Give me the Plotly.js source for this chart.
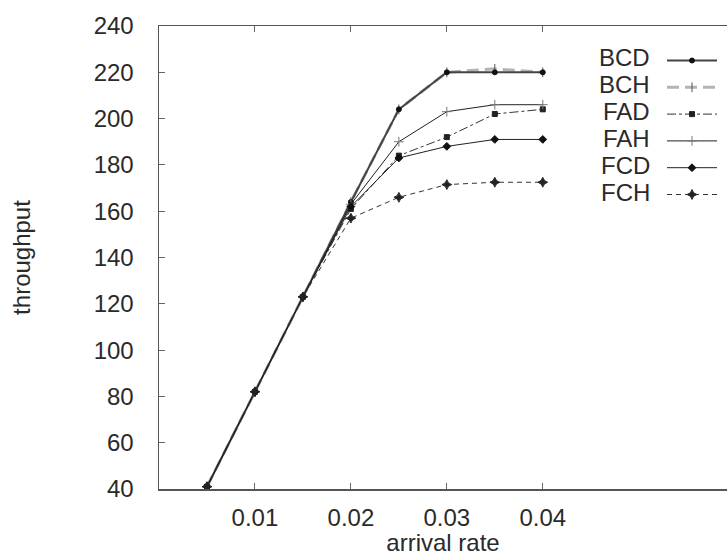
<!DOCTYPE html>
<html><head><meta charset="utf-8">
<script src="https://cdn.plot.ly/plotly-3.0.1.min.js"></script>
<style>html,body{margin:0;padding:0;background:#fff}#chart{width:727px;height:556px}</style>
</head><body><div id="chart"></div>
<script>
const arrivalRate = [0.005, 0.01, 0.015, 0.02, 0.025, 0.03, 0.035, 0.04];
const BCD = [41, 82, 123, 164, 204, 220, 220, 220];
const BCH = [41, 82, 123, 164, 204, 220, 221.5, 220];
const FAD = [41, 82, 123, 161, 184, 192, 202, 204];
const FAH = [41, 82, 123, 163, 190, 203, 206, 206];
const FCD = [41, 82, 123, 162, 183, 188, 191, 191];
const FCH = [41, 82, 123, 157, 166, 171.5, 172.5, 172.5];
const seriesNames = ['BCD', 'BCH', 'FAD', 'FAH', 'FCD', 'FCH'];
const yTicks = [40, 60, 80, 100, 120, 140, 160, 180, 200, 220, 240];
const xTicks = [0.01, 0.02, 0.03, 0.04];

function tr(name, y, color, width, dash, sym, msize, mcolor, rank) {
  return {x: arrivalRate, y: y, name: name, type: 'scatter', mode: 'lines+markers',
    line: {color: color, width: width, dash: dash},
    marker: {symbol: sym, size: msize, color: mcolor, line: {color: mcolor, width: 1}},
    legendgroup: name, legendrank: rank};
}
const data = [
  tr('BCH', BCH, '#b4b4b4', 3, '12px,6px', 'line-ns-open', 7, '#555', 2),
  tr('BCD', BCD, '#444', 2, 'solid', 'circle', 5, '#111', 1),
  tr('FAD', FAD, '#333', 1, 'dashdot', 'square', 5, '#222', 3),
  tr('FAH', FAH, '#222', 1, 'solid', 'cross-thin-open', 7, '#777', 4),
  tr('FCD', FCD, '#222', 1, 'solid', 'diamond', 6, '#111', 5),
  tr('FCH', FCH, '#333', 1, '5px,4px', 'star-diamond', 7, '#222', 6)
];
// legend labels drawn to the left of the legend samples (gnuplot style)
const plotTop = 26, plotH = 463, plotL = 159, plotW = 568;
const rowTop = 58, rowPitch = 26.8;
const annotations = seriesNames.map((n, i) => ({
  text: n, xref: 'paper', yref: 'paper', x: (652 - plotL) / plotW,
  y: 1 - (rowTop + i * rowPitch - plotTop) / plotH,
  xanchor: 'right', yanchor: 'middle', showarrow: false,
  font: {size: 24, color: '#2a2a2a'}
}));
const layout = {
  width: 727, height: 556,
  margin: {l: 159, r: 0, t: 26, b: 67, autoexpand: false},
  paper_bgcolor: '#fff', plot_bgcolor: '#fff',
  font: {family: 'Liberation Sans, Arial, sans-serif', size: 24, color: '#2a2a2a'},
  showlegend: true,
  legend: {x: (662 - plotL) / plotW, y: 1 - (46 - plotTop) / plotH, xanchor: 'left', yanchor: 'top',
    bgcolor: 'rgba(0,0,0,0)', font: {size: 1, color: 'rgba(0,0,0,0)'}, itemwidth: 50,
    traceorder: 'grouped', tracegroupgap: 7.8},
  annotations: annotations,
  xaxis: {range: [0, 0.0592], tickvals: xTicks, ticktext: xTicks.map(v => v.toFixed(2)),
    ticks: 'inside', ticklen: 6, tickcolor: '#666', showline: true, linecolor: '#555', linewidth: 1.5,
    mirror: 'ticks', showgrid: false, zeroline: false, ticklabelstandoff: 7,
    title: {text: 'arrival rate', standoff: 8, font: {size: 24, color: '#2a2a2a'}}},
  yaxis: {range: [40, 240], tickvals: yTicks, ticks: 'inside', ticklen: 6, tickcolor: '#666',
    showline: true, linecolor: '#555', linewidth: 1.5, showgrid: false, zeroline: false,
    ticklabelstandoff: 19,
    title: {text: 'throughput', standoff: 56, font: {size: 24, color: '#2a2a2a'}}}
};
Plotly.newPlot('chart', data, layout, {displayModeBar: false, staticPlot: true});
</script></body></html>
